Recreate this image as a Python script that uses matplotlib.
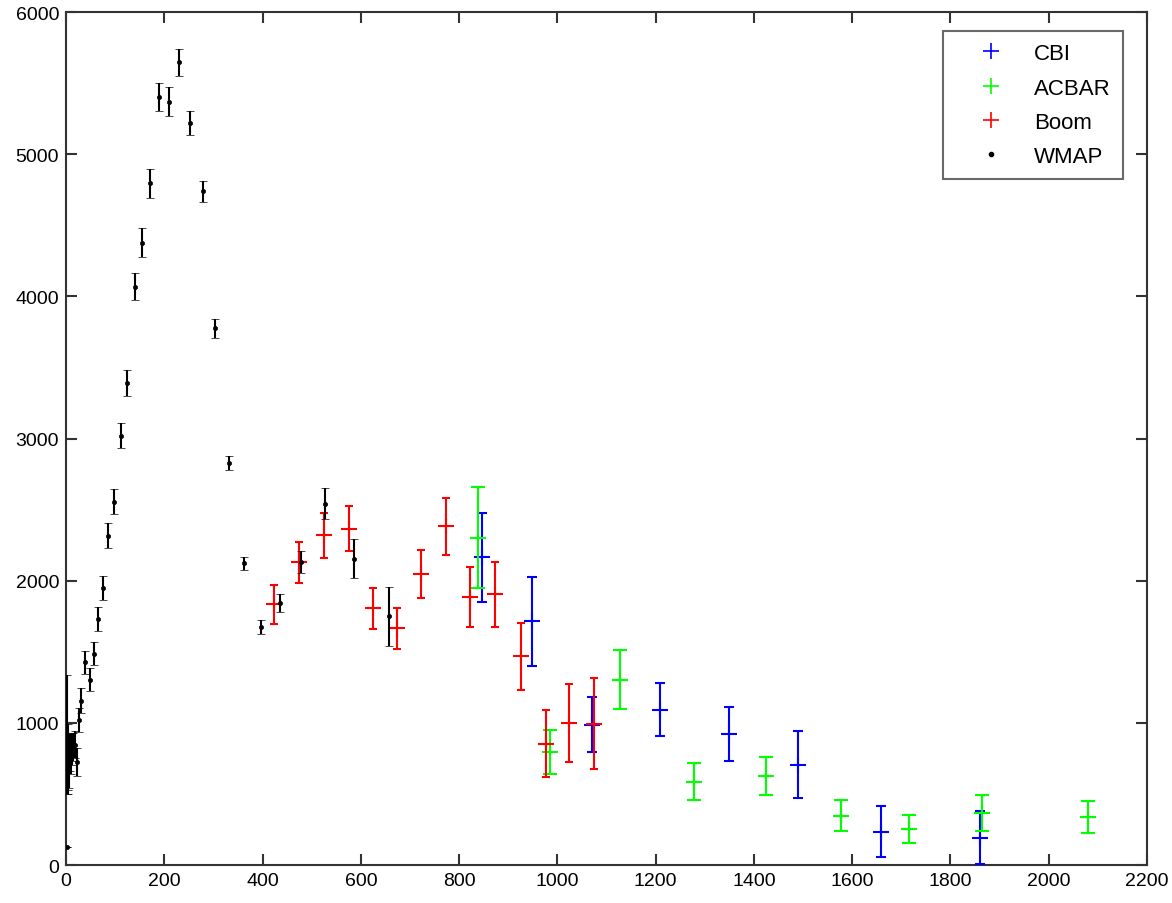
import matplotlib
matplotlib.use("Agg")
import matplotlib.pyplot as plt
from matplotlib.lines import Line2D

plt.rcParams['font.family'] = ['Liberation Sans', 'DejaVu Sans']

# ---- data (multipole l, power, error) ----
cbi_l = [847, 949, 1070, 1209, 1349, 1489, 1658, 1860]
cbi_y = [2164, 1714, 988, 1092, 920, 706, 235, 192]
cbi_e = [312, 312, 193, 185, 190, 235, 180, 185]

acbar_l = [839, 986, 1128, 1278, 1425, 1578, 1715, 1865, 2079]
acbar_y = [2303, 798, 1305, 587, 627, 347, 251, 366, 338]
acbar_e = [355, 155, 208, 130, 135, 110, 98, 130, 112]

boom_l = [423, 475, 526, 575, 625, 674, 723, 774, 823, 874, 925, 976, 1024, 1075]
boom_y = [1833, 2129, 2319, 2366, 1805, 1664, 2046, 2384, 1885, 1904, 1467, 854, 1002, 993]
boom_e = [136, 145, 157, 158, 145, 143, 170, 200, 209, 229, 237, 234, 274, 321]

wmap_l = [2, 3, 4, 5, 7, 9, 11, 12, 15, 18, 23, 27, 31, 39, 49, 57, 65, 76, 86, 98,
          111, 125, 141, 155, 171, 190, 209, 230, 252, 278, 304, 332, 362, 396,
          436, 479, 528, 587, 658]
wmap_y = [130, 920, 760, 700, 690, 794, 760, 817, 830, 845, 723, 1021, 1157, 1427,
          1305, 1486, 1730, 1950, 2317, 2556, 3021, 3390, 4068, 4378, 4796, 5401,
          5368, 5645, 5221, 4739, 3775, 2826, 2122, 1674, 1843, 2131, 2542, 2155, 1749]
wmap_e = [0, 420, 230, 200, 150, 130, 120, 110, 100, 95, 97, 86, 85, 80, 83, 80,
          82, 85, 90, 90, 89, 90, 96, 101, 102, 100, 102, 96, 85, 74, 65, 49, 45,
          50, 60, 78, 107, 137, 207]

xticks = list(range(0, 2201, 200))
yticks = list(range(0, 6001, 1000))

fig = plt.figure(figsize=(11.72, 9.04), dpi=100)
ax = fig.add_axes([0.0563, 0.042, 0.9224, 0.9436])

BLUE = '#0000ff'
GREEN = '#00ff00'
RED = '#ff0000'

ax.errorbar(cbi_l, cbi_y, yerr=cbi_e, fmt='+', color=BLUE, ecolor=BLUE,
            markersize=11, mew=1.5, elinewidth=1.5, capsize=3.8, capthick=1.5, zorder=3)
ax.errorbar(acbar_l, acbar_y, yerr=acbar_e, fmt='+', color=GREEN, ecolor=GREEN,
            markersize=11, mew=1.5, elinewidth=1.5, capsize=4.9, capthick=1.5, zorder=4)
ax.errorbar(boom_l, boom_y, yerr=boom_e, fmt='+', color=RED, ecolor=RED,
            markersize=11, mew=1.5, elinewidth=1.5, capsize=2.8, capthick=1.5, zorder=5)
ax.errorbar(wmap_l, wmap_y, yerr=wmap_e, fmt='o', color='black', ecolor='black',
            markersize=3, mew=0.5, elinewidth=1.5, capsize=2.8, capthick=1.5, zorder=6)

ax.set_xlim(0, 2200)
ax.set_ylim(0, 6000)
ax.set_xticks(xticks)
ax.set_yticks(yticks)
ax.tick_params(direction='in', length=8, width=1.5, top=True, right=True,
               labelsize=14, pad=5, colors='#333333', labelcolor='black')
for s in ax.spines.values():
    s.set_linewidth(1.5)
    s.set_color('#333333')

handles = [
    Line2D([], [], linestyle='none', marker='+', color=BLUE, markersize=11, mew=1.2),
    Line2D([], [], linestyle='none', marker='+', color=GREEN, markersize=11, mew=1.2),
    Line2D([], [], linestyle='none', marker='+', color=RED, markersize=11, mew=1.2),
    Line2D([], [], linestyle='none', marker='o', color='black', markersize=3),
]
leg = ax.legend(handles, ['CBI', 'ACBAR', 'Boom', 'WMAP'], loc='upper right',
                bbox_to_anchor=(0.9778, 0.9777), fontsize=16, frameon=True,
                fancybox=False, edgecolor='#444444', handlelength=3.2,
                handletextpad=0.35, labelspacing=0.6, borderpad=0.55,
                borderaxespad=0.0)
leg.get_frame().set_linewidth(1.5)

fig.savefig('out.png', dpi=100)
